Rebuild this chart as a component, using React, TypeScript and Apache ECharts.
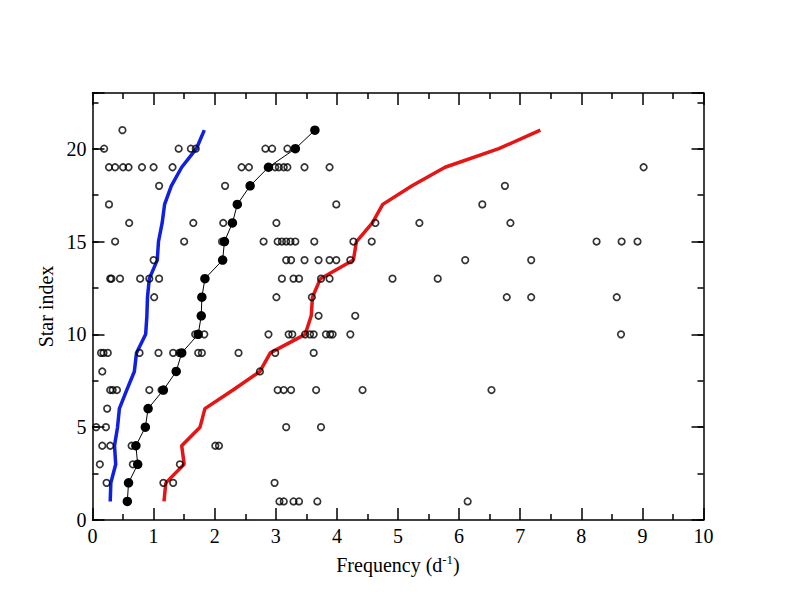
import React, { useEffect, useRef } from "react";
import * as echarts from "echarts";

// Star index 1..21
const starIndex = [1, 2, 3, 4, 5, 6, 7, 8, 9, 10, 11, 12, 13, 14, 15, 16, 17, 18, 19, 20, 21];

// Thick blue curve
const blueFreq = [0.29, 0.30, 0.38, 0.36, 0.41, 0.44, 0.56, 0.685, 0.72, 0.87, 0.89, 0.90, 0.93, 1.06, 1.08, 1.14, 1.18, 1.29, 1.46, 1.70, 1.83];
// Thin black line with filled circles
const blackFreq = [0.57, 0.59, 0.74, 0.71, 0.865, 0.91, 1.16, 1.37, 1.46, 1.73, 1.78, 1.79, 1.84, 2.13, 2.16, 2.29, 2.37, 2.58, 2.88, 3.32, 3.64];
// Thick red curve
const redFreq = [1.17, 1.20, 1.50, 1.46, 1.76, 1.84, 2.30, 2.74, 2.91, 3.48, 3.58, 3.60, 3.73, 4.27, 4.32, 4.58, 4.75, 5.23, 5.77, 6.65, 7.33];

// Open circles: individual frequencies for each star (index 0 -> star 1)
const openFreqs: number[][] = [
  [3.06, 3.13, 3.29, 3.38, 3.68, 6.14],
  [0.23, 1.16, 1.32, 2.98],
  [0.12, 0.66, 1.43],
  [0.16, 0.29, 0.64, 2.01, 2.07],
  [0.06, 0.22, 3.17, 3.74],
  [0.24],
  [0.29, 0.33, 0.40, 0.93, 1.13, 3.03, 3.13, 3.25, 3.66, 4.42, 6.53],
  [0.16, 2.74],
  [0.14, 0.18, 0.25, 0.77, 1.08, 1.32, 1.42, 1.73, 1.79, 2.39, 2.99, 3.62],
  [1.68, 1.83, 2.88, 3.21, 3.27, 3.48, 3.56, 3.62, 3.82, 3.89, 3.93, 4.22, 8.65],
  [3.70, 4.30],
  [1.01, 3.01, 3.59, 6.78, 7.18, 8.58],
  [0.29, 0.31, 0.45, 0.78, 0.93, 1.09, 3.10, 3.29, 3.38, 3.74, 3.88, 4.91, 5.65],
  [1.00, 3.17, 3.25, 3.47, 3.70, 3.88, 3.99, 4.22, 6.10, 7.18],
  [0.37, 1.50, 2.12, 2.80, 3.03, 3.10, 3.17, 3.24, 3.32, 3.63, 4.27, 4.57, 8.25, 8.66, 8.92],
  [0.60, 1.65, 2.14, 3.01, 4.63, 5.35, 6.84],
  [0.27, 3.99, 6.38],
  [1.09, 2.17, 6.75],
  [0.27, 0.37, 0.50, 0.59, 0.81, 1.00, 1.31, 2.44, 2.56, 2.99, 3.05, 3.13, 3.19, 3.47, 3.88, 9.02],
  [0.19, 1.41, 1.61, 1.69, 2.83, 2.94, 3.19],
  [0.49],
];

const xTicks = [0, 1, 2, 3, 4, 5, 6, 7, 8, 9, 10];
const yTickLabels = [0, 5, 10, 15, 20];

const FONT = "'Liberation Serif', 'DejaVu Serif', serif";
const BLACK = "#000000";

export default function App() {
  const ref = useRef<HTMLDivElement>(null);

  useEffect(() => {
    if (!ref.current) return;
    const chart = echarts.init(ref.current, undefined, { renderer: "svg" });

    const line = (s: number[]) => s.map((x, i) => [x, starIndex[i]]);
    const openPts: number[][] = [];
    openFreqs.forEach((row, i) => row.forEach((x) => openPts.push([x, starIndex[i]])));

    const axisLine = { show: true, onZero: false, lineStyle: { color: BLACK, width: 1.5 } };
    const xBase = {
      type: "value" as const,
      min: xTicks[0],
      max: xTicks[xTicks.length - 1],
      interval: 1,
      splitLine: { show: false },
      axisLine,
      axisTick: { show: true, inside: true, length: 12, lineStyle: { color: BLACK, width: 1.5 } },
      minorTick: { show: true, splitNumber: 2, length: 6, lineStyle: { color: BLACK, width: 1.5 } },
    };
    const yMajor = (pos: "left" | "right", labels: boolean) => ({
      type: "value" as const,
      position: pos,
      min: 0,
      max: 23,
      interval: 5,
      splitLine: { show: false },
      axisLine,
      axisTick: { show: true, inside: true, length: 12, lineStyle: { color: BLACK, width: 1.5 } },
      axisLabel: labels
        ? {
            show: true,
            margin: 6,
            fontFamily: FONT,
            fontSize: 20,
            color: BLACK,
            formatter: (v: number) => (yTickLabels.indexOf(v) >= 0 ? String(v) : ""),
          }
        : { show: false },
    });
    const yMinor = (pos: "left" | "right") => ({
      type: "value" as const,
      position: pos,
      min: 0,
      max: 23,
      interval: 2.5,
      splitLine: { show: false },
      axisLine: { show: false, onZero: false },
      axisTick: { show: true, inside: true, length: 6, lineStyle: { color: BLACK, width: 1.5 } },
      axisLabel: { show: false },
    });

    chart.setOption({
      animation: false,
      backgroundColor: "#ffffff",
      grid: { left: 92.5, right: 88.5, top: 93, bottom: 92, containLabel: false },
      xAxis: [
        {
          ...xBase,
          position: "bottom",
          name: "{a|Frequency (d}{s|-1}{a|)}",
          nameLocation: "middle",
          nameGap: 33,
          nameTextStyle: {
            fontFamily: FONT,
            fontSize: 20,
            color: BLACK,
            rich: {
              a: { fontFamily: FONT, fontSize: 20, color: BLACK, lineHeight: 24 },
              s: { fontFamily: FONT, fontSize: 13, color: BLACK, verticalAlign: "top", lineHeight: 24 },
            },
          },
          axisLabel: { show: true, margin: 6, fontFamily: FONT, fontSize: 20, color: BLACK },
        },
        { ...xBase, position: "top", axisLabel: { show: false } },
      ],
      yAxis: [
        {
          ...yMajor("left", true),
          name: "Star index",
          nameLocation: "middle",
          nameGap: 25,
          nameRotate: 90,
          nameTextStyle: { fontFamily: FONT, fontSize: 20, color: BLACK },
        },
        yMinor("left"),
        yMajor("right", false),
        yMinor("right"),
      ],
      series: [
        {
          type: "line",
          data: line(blueFreq),
          showSymbol: false,
          symbol: "none",
          lineStyle: { color: "#1020e0", width: 3.5 },
          z: 2,
        },
        {
          type: "line",
          data: line(redFreq),
          showSymbol: false,
          symbol: "none",
          lineStyle: { color: "#e61414", width: 3.5 },
          z: 2,
        },
        {
          type: "scatter",
          data: openPts,
          symbol: "circle",
          symbolSize: 6.5,
          itemStyle: { color: "rgba(255,255,255,0)", borderColor: BLACK, borderWidth: 1.7 },
          z: 3,
        },
        {
          type: "line",
          data: line(blackFreq),
          symbol: "circle",
          symbolSize: 9.5,
          showSymbol: true,
          itemStyle: { color: BLACK, borderColor: BLACK, borderWidth: 0 },
          lineStyle: { color: BLACK, width: 1 },
          z: 4,
        },
      ],
    });

    return () => chart.dispose();
  }, []);

  return (
    <div
      ref={ref}
      style={{ position: "absolute", left: 0, top: 0, width: 792, height: 612, background: "#fff" }}
    />
  );
}
